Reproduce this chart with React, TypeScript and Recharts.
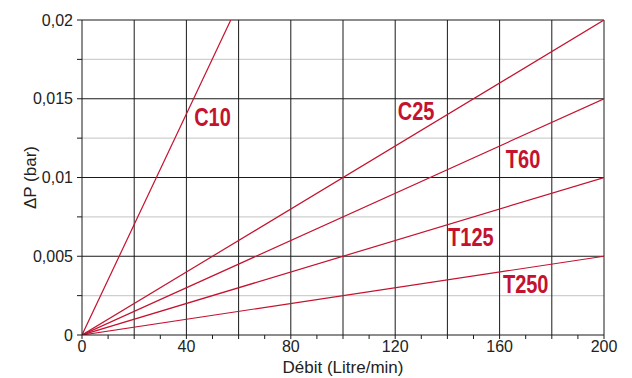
import React from "react"
import {
  LineChart,
  Line,
  XAxis,
  YAxis,
  CartesianGrid,
  ReferenceDot,
  Label,
} from "recharts"

const SERIES = ["C10", "C25", "T60", "T125", "T250"]
const END_FLOW = [57, 200, 200, 200, 200]
const END_DP = [0.02, 0.02, 0.015, 0.01, 0.005]
const LABEL_FLOW = [50, 128, 169, 149, 170]
const LABEL_DP = [0.0138, 0.0142, 0.0111, 0.0062, 0.0032]

const X_TICKS = [0, 10, 20, 30, 40, 50, 60, 70, 80, 90, 100, 110, 120, 130, 140, 150, 160, 170, 180, 190, 200]
const X_GRID = [20, 40, 60, 80, 100, 120, 140, 160, 180, 200]
const Y_TICKS = [0, 0.0025, 0.005, 0.0075, 0.01, 0.0125, 0.015, 0.0175, 0.02]
const Y_MAJOR = [0.005, 0.01, 0.015, 0.02]
const Y_MINOR = [0.0025, 0.0075, 0.0125, 0.0175]

const RED = "#c4122f"
const FONT = "'Liberation Sans', Arial, sans-serif"

const fmtX = (v: number) => (v % 40 === 0 ? String(v) : "")
const fmtY = (v: number) => {
  const k = Math.round(v * 10000)
  if (k % 50 !== 0) return ""
  return String(v).replace(".", ",")
}

// condensed bold label, like the Arial Narrow of the original
function NarrowLabel(props: any) {
  const { cx, cy, text } = props
  if (cx == null || cy == null) return null
  return (
    <text
      transform={`translate(${cx},${cy}) scale(0.8,1)`}
      textAnchor="middle"
      dominantBaseline="central"
      fill={RED}
      fontSize={25}
      fontWeight={700}
      fontFamily={FONT}
    >
      {text}
    </text>
  )
}

export default function App() {
  return (
    <div style={{ position: "absolute", left: 0, top: 0, background: "#fff", fontFamily: FONT }}>
      <LineChart
        width={632}
        height={378}
        margin={{ top: 20, right: 28, left: 0, bottom: 0 }}
      >
        <CartesianGrid
          horizontalValues={Y_MINOR}
          vertical={false}
          stroke="#cfcfcf"
          strokeWidth={1.2}
        />
        <CartesianGrid
          horizontalValues={Y_MAJOR}
          verticalValues={X_GRID}
          stroke="#1a1a1a"
          strokeWidth={1}
        />
        <XAxis
          type="number"
          dataKey="x"
          domain={[0, 200]}
          ticks={X_TICKS}
          tickFormatter={fmtX}
          interval={0}
          height={43}
          tickSize={4}
          tickMargin={2}
          stroke="#1a1a1a"
          tick={{ fill: "#222", fontSize: 16, fontFamily: FONT }}
          allowDataOverflow
        >
          <Label
            value="Débit (Litre/min)"
            position="insideBottom"
            offset={5}
            style={{ fill: "#222", fontSize: 17, fontFamily: FONT }}
          />
        </XAxis>
        <YAxis
          type="number"
          dataKey="y"
          domain={[0, 0.02]}
          ticks={Y_TICKS}
          tickFormatter={fmtY}
          interval={0}
          width={82}
          tickSize={5}
          tickMargin={4}
          stroke="#1a1a1a"
          tick={{ fill: "#222", fontSize: 16, fontFamily: FONT }}
          allowDataOverflow
        >
          <Label
            value="ΔP (bar)"
            angle={-90}
            position="insideLeft"
            offset={30}
            style={{ fill: "#222", fontSize: 17, fontFamily: FONT, textAnchor: "middle" }}
          />
        </YAxis>
        {SERIES.map((name, i) => (
          <Line
            key={name}
            data={[
              { x: 0, y: 0 },
              { x: END_FLOW[i], y: END_DP[i] },
            ]}
            dataKey="y"
            stroke={RED}
            strokeWidth={1.2}
            dot={false}
            isAnimationActive={false}
          />
        ))}
        {SERIES.map((name, i) => (
          <ReferenceDot
            key={"l" + name}
            x={LABEL_FLOW[i]}
            y={LABEL_DP[i]}
            r={1}
            shape={(p: any) => <NarrowLabel {...p} text={name} />}
          />
        ))}
      </LineChart>
    </div>
  )
}
